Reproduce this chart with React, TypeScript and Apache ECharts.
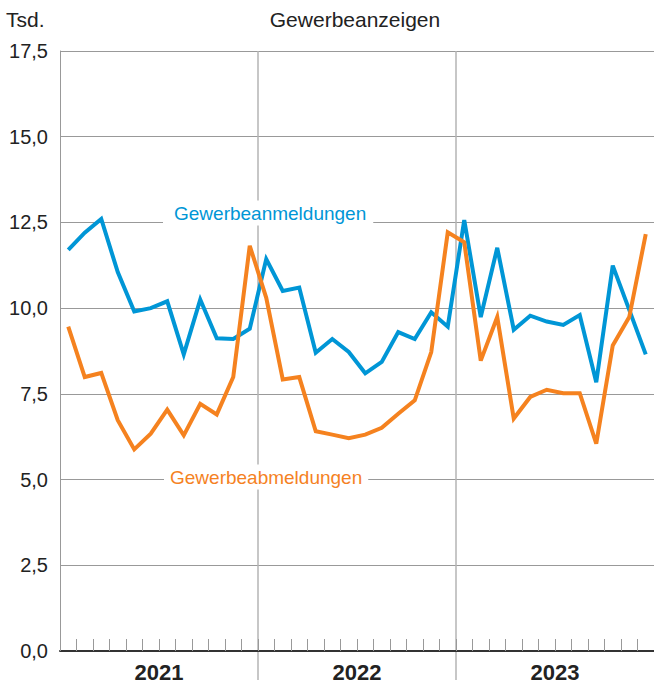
import React, { useEffect, useRef } from "react";
import * as echarts from "echarts";

const years = ["2021", "2022", "2023"];
const months = ["Jan", "Feb", "Mär", "Apr", "Mai", "Jun", "Jul", "Aug", "Sep", "Okt", "Nov", "Dez"];
const categories = years.flatMap((y) => months.map((m) => `${m} ${y}`));

const anmeldungen = [
  11.7, 12.2, 12.6, 11.05, 9.9, 10.0, 10.2, 8.65, 10.25, 9.12, 9.1, 9.4,
  11.43, 10.5, 10.6, 8.7, 9.1, 8.72, 8.1, 8.43, 9.3, 9.1, 9.88, 9.46,
  12.57, 9.74, 11.76, 9.37, 9.78, 9.61, 9.51, 9.8, 7.84, 11.24, 9.95, 8.65,
];
const abmeldungen = [
  9.46, 7.99, 8.11, 6.73, 5.88, 6.34, 7.04, 6.29, 7.21, 6.9, 7.99, 11.82,
  10.3, 7.92, 7.99, 6.41, 6.31, 6.21, 6.31, 6.51, 6.92, 7.31, 8.72, 12.21,
  11.92, 8.47, 9.74, 6.78, 7.41, 7.62, 7.52, 7.52, 6.05, 8.91, 9.74, 12.16,
];

const BLUE = "#0096d6";
const ORANGE = "#f5821f";
const FONT = "'Liberation Sans', Arial, sans-serif";

export default function App() {
  const ref = useRef<HTMLDivElement>(null);
  useEffect(() => {
    document.body.style.margin = "0";
    const chart = echarts.init(ref.current!, null, { renderer: "svg" });
    chart.setOption({
      animation: false,
      textStyle: { fontFamily: FONT },
      grid: { left: 60, right: 0, top: 51, bottom: 34 },
      xAxis: [
        {
          type: "category",
          data: categories,
          boundaryGap: true,
          position: "bottom",
          axisLine: { show: true, lineStyle: { color: "#333", width: 2 } },
          axisTick: { show: true, inside: true, length: 12, interval: 0, lineStyle: { color: "#999", width: 1 } },
          axisLabel: { show: false },
          splitLine: { show: false },
          z: 5,
        },
        {
          type: "value",
          min: 0,
          max: 36,
          interval: 12,
          position: "bottom",
          axisLine: { show: false },
          axisTick: { show: true, length: 29, customValues: [12, 24], lineStyle: { color: "#b5b5b5", width: 1.5 } },
          axisLabel: { show: false },
          splitLine: { show: true, lineStyle: { color: "#b5b5b5", width: 1.5 } },
        },
        {
          type: "category",
          data: years,
          boundaryGap: true,
          position: "bottom",
          axisLine: { show: false },
          axisTick: { show: false },
          splitLine: { show: false },
          axisLabel: { show: true, margin: 10, fontSize: 22, fontWeight: "bold", color: "#222", fontFamily: FONT },
        },
      ],
      yAxis: {
        type: "value",
        min: 0,
        max: 17.5,
        interval: 2.5,
        axisLine: { show: true, lineStyle: { color: "#999", width: 1 } },
        axisTick: { show: false },
        axisLabel: {
          margin: 12,
          fontSize: 20,
          color: "#222",
          fontFamily: FONT,
          formatter: (v: number) => v.toFixed(1).replace(".", ","),
        },
        splitLine: { show: true, lineStyle: { color: "#999", width: 1 } },
      },
      graphic: [
        { type: "text", x: 6, y: 19, z: 10, style: { text: "Tsd.", fontSize: 21, fontFamily: FONT, fill: "#222", verticalAlign: "middle" } },
        { type: "text", x: 355, y: 19, z: 10, style: { text: "Gewerbeanzeigen", fontSize: 21, fontFamily: FONT, fill: "#222", align: "center", verticalAlign: "middle" } },
        {
          type: "text", x: 163, y: 213, z: 1,
          style: { text: "Gewerbeanmeldungen", fontSize: 19, fontFamily: FONT, fill: BLUE, verticalAlign: "middle", backgroundColor: "#fff", padding: [3, 7, 3, 11] },
        },
        {
          type: "text", x: 164, y: 477, z: 1,
          style: { text: "Gewerbeabmeldungen", fontSize: 19, fontFamily: FONT, fill: ORANGE, verticalAlign: "middle", backgroundColor: "#fff", padding: [3, 6, 3, 6] },
        },
      ],
      series: [
        {
          name: "Gewerbeanmeldungen",
          type: "line",
          data: anmeldungen,
          xAxisIndex: 0,
          showSymbol: false,
          symbol: "none",
          lineStyle: { color: BLUE, width: 4, join: "miter" },
          itemStyle: { color: BLUE },
          z: 3,
        },
        {
          name: "Gewerbeabmeldungen",
          type: "line",
          data: abmeldungen,
          xAxisIndex: 0,
          showSymbol: false,
          symbol: "none",
          lineStyle: { color: ORANGE, width: 4, join: "miter" },
          itemStyle: { color: ORANGE },
          z: 4,
        },
      ],
    });
    return () => chart.dispose();
  }, []);
  return <div ref={ref} style={{ width: 654, height: 685 }} />;
}
